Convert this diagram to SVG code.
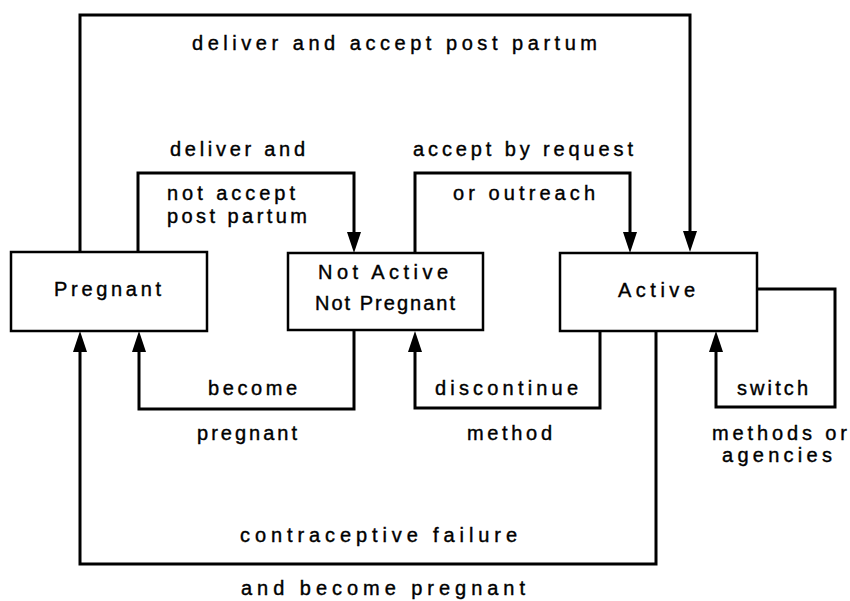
<svg xmlns="http://www.w3.org/2000/svg" width="850" height="601" viewBox="0 0 850 601">
  <style>
    .box { fill: #fff; stroke: #000; stroke-width: 2.5; }
    .conn { fill: none; stroke: #000; stroke-width: 3; stroke-linejoin: miter; }
    text { font-family: "Liberation Sans", Arial, sans-serif; font-size: 20px; fill: #000; stroke: #000; stroke-width: 0.4; }
  </style>
  <defs>
    <marker id="arrow" markerUnits="userSpaceOnUse" markerWidth="21" markerHeight="14" refX="10" refY="7" orient="auto">
      <path d="M0,0 L21,7 L0,14 Z" fill="#000"/>
    </marker>
  </defs>
  <rect width="850" height="601" fill="#fff"/>

  <g id="connectors">
    <!-- Pregnant -> Active (deliver and accept post partum) -->
    <path class="conn" d="M80,252 V15 H690 V241" marker-end="url(#arrow)"/>
    <!-- Pregnant -> Not Active (deliver and not accept) -->
    <path class="conn" d="M138,252 V173 H354 V242" marker-end="url(#arrow)"/>
    <!-- Not Active -> Active (accept by request or outreach) -->
    <path class="conn" d="M415,253 V173 H630 V242" marker-end="url(#arrow)"/>
    <!-- Not Active -> Pregnant (become pregnant) -->
    <path class="conn" d="M354,331 V409 H139 V342" marker-end="url(#arrow)"/>
    <!-- Active -> Not Active (discontinue method) -->
    <path class="conn" d="M600,331 V408 H415 V342" marker-end="url(#arrow)"/>
    <!-- Active -> Pregnant (contraceptive failure) -->
    <path class="conn" d="M656,331 V564 H80 V342" marker-end="url(#arrow)"/>
    <!-- Active -> Active (switch methods or agencies) -->
    <path class="conn" d="M757,289 H835 V407 H716 V342" marker-end="url(#arrow)"/>
  </g>

  <g id="labels">
    <text x="192" y="50" textLength="405" lengthAdjust="spacing">deliver and accept post partum</text>
    <text x="170" y="156" textLength="135" lengthAdjust="spacing">deliver and</text>
    <text x="167" y="200" textLength="128" lengthAdjust="spacing">not accept</text>
    <text x="167" y="223" textLength="140" lengthAdjust="spacing">post partum</text>
    <text x="413" y="156" textLength="220" lengthAdjust="spacing">accept by request</text>
    <text x="453" y="200" textLength="142" lengthAdjust="spacing">or outreach</text>
    <text x="208" y="395" textLength="89" lengthAdjust="spacing">become</text>
    <text x="197" y="440" textLength="100" lengthAdjust="spacing">pregnant</text>
    <text x="435" y="395" textLength="143" lengthAdjust="spacing">discontinue</text>
    <text x="467" y="440" textLength="85" lengthAdjust="spacing">method</text>
    <text x="737" y="395" textLength="71" lengthAdjust="spacing">switch</text>
    <text x="712" y="440" textLength="135" lengthAdjust="spacing">methods or</text>
    <text x="722" y="462" textLength="110" lengthAdjust="spacing">agencies</text>
    <text x="240" y="542" textLength="277" lengthAdjust="spacing">contraceptive failure</text>
    <text x="241" y="595" textLength="284" lengthAdjust="spacing">and become pregnant</text>
  </g>

  <g id="pregnant">
    <rect class="box" x="11" y="252" width="196" height="79"/>
    <text x="54" y="296" textLength="107" lengthAdjust="spacing">Pregnant</text>
  </g>
  <g id="not-active">
    <rect class="box" x="288" y="253" width="195" height="77"/>
    <text x="318" y="279" textLength="130" lengthAdjust="spacing">Not Active</text>
    <text x="315" y="310" textLength="140" lengthAdjust="spacing">Not Pregnant</text>
  </g>
  <g id="active">
    <rect class="box" x="560" y="253" width="197" height="78"/>
    <text x="618" y="297" textLength="77" lengthAdjust="spacing">Active</text>
  </g>
</svg>
